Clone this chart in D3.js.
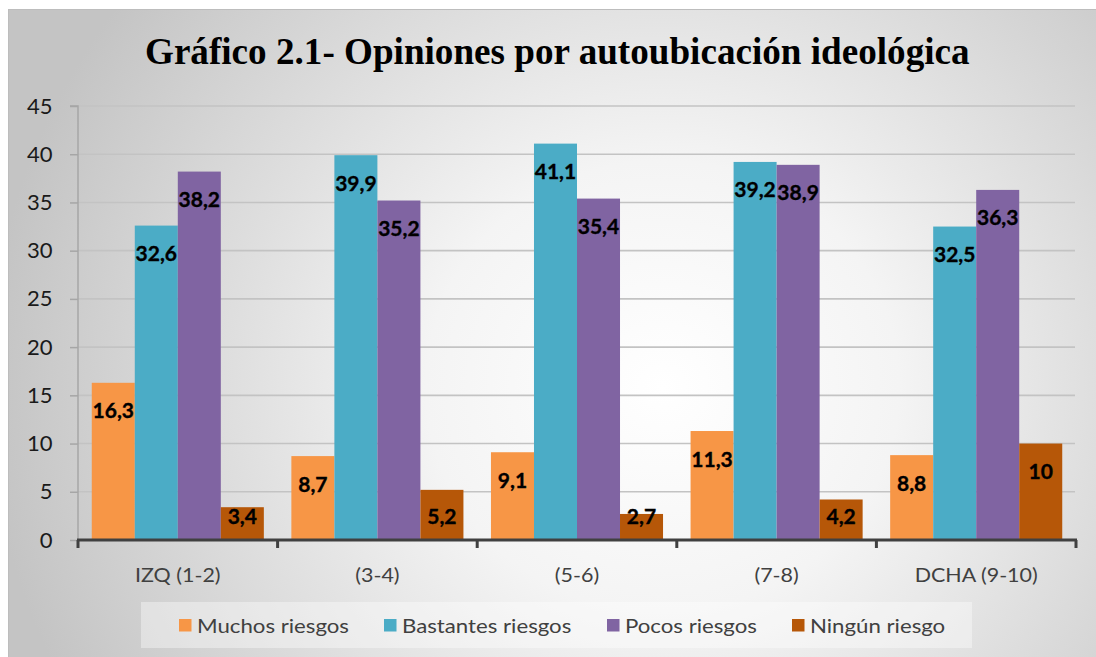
<!DOCTYPE html>
<html>
<head>
<meta charset="utf-8">
<script src="https://cdn.jsdelivr.net/npm/d3@7"></script>
<style>
  html, body { margin: 0; padding: 0; background: #ffffff; }
  svg { display: block; }
</style>
</head>
<body>
<svg id="chart" width="1096" height="657"></svg>
<script>
// ---- data ----
const categories = ["IZQ (1-2)", "(3-4)", "(5-6)", "(7-8)", "DCHA (9-10)"];
const seriesNames = ["Muchos riesgos", "Bastantes riesgos", "Pocos riesgos", "Ningún riesgo"];
const muchos    = [16.3, 8.7, 9.1, 11.3, 8.8];
const bastantes = [32.6, 39.9, 41.1, 39.2, 32.5];
const pocos     = [38.2, 35.2, 35.4, 38.9, 36.3];
const ninguno   = [3.4, 5.2, 2.7, 4.2, 10];
const yTicks    = [0, 5, 10, 15, 20, 25, 30, 35, 40, 45];
const colors    = ["#F79646", "#4BACC6", "#8064A2", "#B65708"];
const titleText = "Gráfico 2.1- Opiniones por autoubicación ideológica";

const seriesValues = [muchos, bastantes, pocos, ninguno];
const fmt = v => String(v).replace(".", ",");

const svg = d3.select("#chart");

// background gradient
const defs = svg.append("defs");
const rg = defs.append("radialGradient").attr("id", "bg")
  .attr("cx", "0.6").attr("cy", "0.58").attr("r", "0.62")
  .attr("gradientTransform", "translate(0.6,0.58) scale(1,1.6) translate(-0.6,-0.58)");
rg.append("stop").attr("offset", "0").attr("stop-color", "#ffffff");
rg.append("stop").attr("offset", "0.35").attr("stop-color", "#f4f4f4");
rg.append("stop").attr("offset", "1").attr("stop-color", "#c4c4c4");

svg.append("rect").attr("x", 8.5).attr("y", 9.5).attr("width", 1090).attr("height", 650)
  .attr("fill", "url(#bg)").attr("stroke", "#bdbdbd").attr("stroke-width", 1);

// layout
const plot = { left: 78, right: 1076, top: 106, bottom: 540 };

const y = d3.scaleLinear().domain([0, 45]).range([plot.bottom, plot.top]);
const x0 = d3.scaleBand().domain(categories).range([plot.left, plot.right]).padding(0);
const x1 = d3.scaleBand().domain(seriesNames).range([0, x0.bandwidth()])
  .paddingInner(0).paddingOuter(0.32);

const sansFont = "Lato, 'Noto Sans', 'Open Sans', sans-serif";

function stretchedText(g, x, yPos, txt, sx, anchor) {
  return g.append("text")
    .attr("transform", `translate(${x},${yPos}) scale(${sx},1)`)
    .attr("text-anchor", anchor)
    .text(txt);
}

// gridlines
svg.append("g").selectAll("line").data(yTicks.filter(t => t > 0)).join("line")
  .attr("x1", plot.left).attr("x2", plot.right - 1)
  .attr("y1", d => y(d)).attr("y2", d => y(d))
  .attr("stroke", "#c3c3c3").attr("stroke-width", 1.6);

// y axis
const yAxisG = svg.append("g").attr("transform", `translate(${plot.left},0)`)
  .call(d3.axisLeft(y).tickValues(yTicks).tickSize(8).tickFormat(""));
yAxisG.select(".domain").attr("stroke", "#a6a6a6").attr("stroke-width", 1.5)
  .attr("d", `M-8,${plot.top}H0V${plot.bottom}`);
yAxisG.selectAll(".tick line").attr("stroke", "#a6a6a6").attr("stroke-width", 1.5);

const yLab = svg.append("g").attr("font-family", sansFont).attr("font-size", 21)
  .attr("fill", "#1a1a1a");
yTicks.forEach(t => stretchedText(yLab, 52.5, y(t) + 7.5, String(t), 1.05, "end"));

// bars
const groups = svg.append("g").selectAll("g").data(categories).join("g")
  .attr("transform", d => `translate(${x0(d)},0)`);

groups.each(function (cat, ci) {
  const g = d3.select(this);
  seriesNames.forEach((s, si) => {
    const v = seriesValues[si][ci];
    g.append("rect")
      .attr("x", x1(s)).attr("width", x1.bandwidth())
      .attr("y", y(v)).attr("height", y(0) - y(v))
      .attr("fill", colors[si]);
  });
});

// data labels
groups.each(function (cat, ci) {
  const g = d3.select(this);
  seriesNames.forEach((s, si) => {
    const v = seriesValues[si][ci];
    const cy = Math.min(y(v) + 28, plot.bottom - 23.5);
    g.append("text")
      .attr("x", x1(s) + x1.bandwidth() / 2)
      .attr("y", cy + 7.5)
      .attr("text-anchor", "middle")
      .attr("font-family", sansFont).attr("font-weight", 700).attr("font-size", 21)
      .attr("fill", "#000")
      .attr("stroke", "#000").attr("stroke-width", 0.35)
      .text(fmt(v));
  });
});

// x axis
const xAxisG = svg.append("g").attr("transform", `translate(0,${plot.bottom})`);
xAxisG.append("line").attr("x1", plot.left - 1).attr("x2", plot.right + 1)
  .attr("y1", 0).attr("y2", 0).attr("stroke", "#404040").attr("stroke-width", 3);
const boundaries = categories.map(c => x0(c)).concat([x0(categories[categories.length - 1]) + x0.bandwidth()]);
xAxisG.selectAll("line.tk").data(boundaries).join("line").attr("class", "tk")
  .attr("x1", d => d).attr("x2", d => d).attr("y1", 0).attr("y2", 8)
  .attr("stroke", "#404040").attr("stroke-width", 3);

const xLab = svg.append("g").attr("font-family", sansFont).attr("font-size", 19.5)
  .attr("fill", "#404040");
categories.forEach(c => stretchedText(xLab, x0(c) + x0.bandwidth() / 2, 581.5, c, 1.1, "middle"));

// title
const title = svg.append("text")
  .attr("font-family", "'Liberation Serif', 'Times New Roman', serif")
  .attr("font-weight", 700).attr("font-size", 38).attr("fill", "#000")
  .attr("text-anchor", "start")
  .text(titleText);
const tw = title.node().getComputedTextLength();
const tsx = 825 / tw;
title.attr("transform", `translate(145,63.5) scale(${tsx},1)`);

// legend
const legend = svg.append("g");
legend.append("rect").attr("x", 141).attr("y", 602).attr("width", 831).attr("height", 46)
  .attr("fill", "#ffffff").attr("fill-opacity", 0.38);
const legendX = [179, 384, 607, 792];
seriesNames.forEach((s, i) => {
  legend.append("rect").attr("x", legendX[i]).attr("y", 619).attr("width", 12.5).attr("height", 12.5)
    .attr("fill", colors[i]);
  const t = legend.append("text").attr("font-family", sansFont).attr("font-size", 19.5)
    .attr("fill", "#404040");
  t.attr("transform", `translate(${legendX[i] + 18},632.5) scale(1.14,1)`).text(s);
});
</script>
</body>
</html>
